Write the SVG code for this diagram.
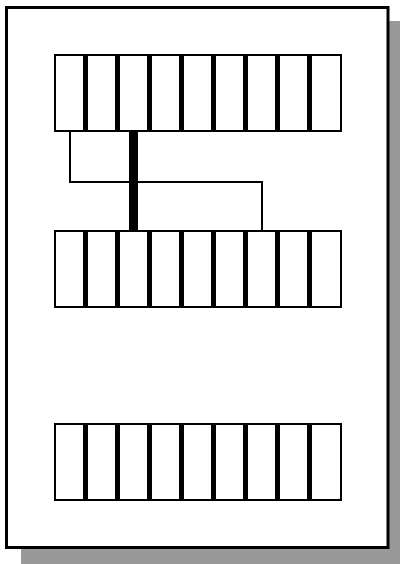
<svg xmlns="http://www.w3.org/2000/svg" width="400" height="564" viewBox="0 0 400 564">
<style>
.cell{fill:#fff;stroke:#000;stroke-width:2}
.rowbg{fill:#000}
.wire{fill:none;stroke:#000;stroke-width:2}
.bus{fill:none;stroke:#000;stroke-width:9}
</style>
<defs>
<g id="row">
<rect class="rowbg" x="54" y="-1" width="288" height="78"/>
<rect class="cell" x="55" y="0" width="29" height="76"/>
<rect class="cell" x="87" y="0" width="29" height="76"/>
<rect class="cell" x="119" y="0" width="29" height="76"/>
<rect class="cell" x="151" y="0" width="29" height="76"/>
<rect class="cell" x="183" y="0" width="29" height="76"/>
<rect class="cell" x="215" y="0" width="29" height="76"/>
<rect class="cell" x="247" y="0" width="29" height="76"/>
<rect class="cell" x="279" y="0" width="29" height="76"/>
<rect class="cell" x="311" y="0" width="30" height="76"/>
</g>
</defs>
<rect id="shadow" x="21" y="21" width="379" height="543" fill="#999"/>
<rect id="page" x="6.5" y="7.5" width="381.5" height="540" fill="#fff" stroke="#000" stroke-width="3"/>
<g id="connectors">
<polyline class="wire" points="70,131 70,182 262,182 262,231"/>
<line class="bus" x1="133.5" y1="131" x2="133.5" y2="231"/>
</g>
<g id="row1"><use href="#row" y="55"/></g>
<g id="row2"><use href="#row" y="231"/></g>
<g id="row3"><use href="#row" y="424"/></g>
</svg>
